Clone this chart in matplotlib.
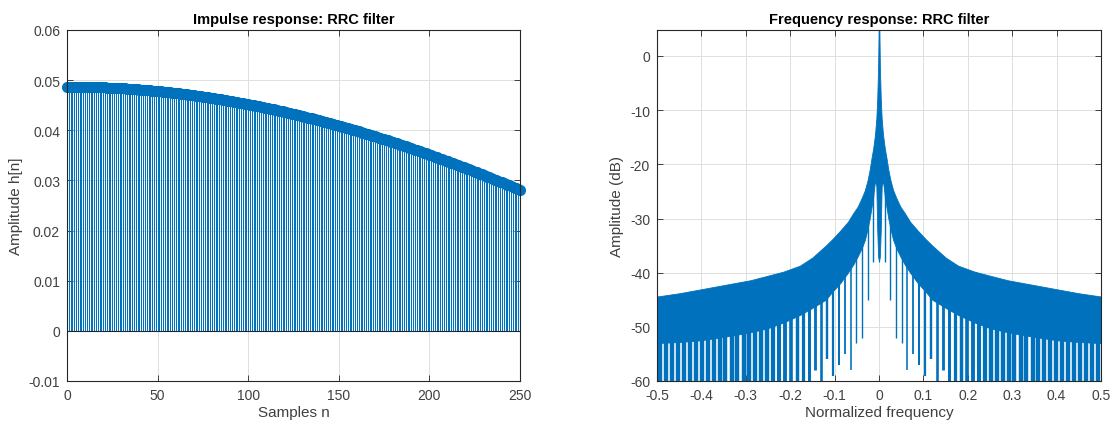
import numpy as np
import matplotlib
matplotlib.use("Agg")
import matplotlib.pyplot as plt

# ---------------- data ----------------
# Impulse response h[n], n = 0..250
samples_n = list(range(251))
h_values = [
    0.04870, 0.04870, 0.04870, 0.04870, 0.04869, 0.04869, 0.04869, 0.04868, 0.04868, 0.04867,
    0.04866, 0.04866, 0.04865, 0.04864, 0.04863, 0.04862, 0.04861, 0.04860, 0.04858, 0.04857,
    0.04856, 0.04854, 0.04853, 0.04851, 0.04849, 0.04848, 0.04846, 0.04844, 0.04842, 0.04840,
    0.04838, 0.04836, 0.04834, 0.04831, 0.04829, 0.04826, 0.04824, 0.04821, 0.04819, 0.04816,
    0.04813, 0.04810, 0.04807, 0.04804, 0.04801, 0.04798, 0.04795, 0.04792, 0.04788, 0.04785,
    0.04781, 0.04778, 0.04774, 0.04770, 0.04767, 0.04763, 0.04759, 0.04755, 0.04751, 0.04747,
    0.04742, 0.04738, 0.04734, 0.04729, 0.04725, 0.04720, 0.04716, 0.04711, 0.04706, 0.04701,
    0.04697, 0.04692, 0.04687, 0.04682, 0.04676, 0.04671, 0.04666, 0.04660, 0.04655, 0.04650,
    0.04644, 0.04638, 0.04633, 0.04627, 0.04621, 0.04615, 0.04609, 0.04603, 0.04597, 0.04591,
    0.04584, 0.04578, 0.04572, 0.04565, 0.04559, 0.04552, 0.04546, 0.04539, 0.04532, 0.04525,
    0.04518, 0.04511, 0.04504, 0.04497, 0.04490, 0.04483, 0.04476, 0.04468, 0.04461, 0.04453,
    0.04446, 0.04438, 0.04430, 0.04423, 0.04415, 0.04407, 0.04399, 0.04391, 0.04383, 0.04375,
    0.04366, 0.04358, 0.04350, 0.04341, 0.04333, 0.04324, 0.04316, 0.04307, 0.04298, 0.04290,
    0.04281, 0.04272, 0.04263, 0.04254, 0.04245, 0.04236, 0.04226, 0.04217, 0.04208, 0.04198,
    0.04189, 0.04179, 0.04170, 0.04160, 0.04150, 0.04140, 0.04131, 0.04121, 0.04111, 0.04101,
    0.04091, 0.04081, 0.04070, 0.04060, 0.04050, 0.04039, 0.04029, 0.04019, 0.04008, 0.03997,
    0.03987, 0.03976, 0.03965, 0.03954, 0.03943, 0.03933, 0.03921, 0.03910, 0.03899, 0.03888,
    0.03877, 0.03866, 0.03854, 0.03843, 0.03831, 0.03820, 0.03808, 0.03797, 0.03785, 0.03773,
    0.03761, 0.03750, 0.03738, 0.03726, 0.03714, 0.03702, 0.03689, 0.03677, 0.03665, 0.03653,
    0.03640, 0.03628, 0.03616, 0.03603, 0.03590, 0.03578, 0.03565, 0.03552, 0.03540, 0.03527,
    0.03514, 0.03501, 0.03488, 0.03475, 0.03462, 0.03449, 0.03436, 0.03423, 0.03409, 0.03396,
    0.03383, 0.03369, 0.03356, 0.03342, 0.03329, 0.03315, 0.03301, 0.03288, 0.03274, 0.03260,
    0.03246, 0.03232, 0.03218, 0.03204, 0.03190, 0.03176, 0.03162, 0.03148, 0.03134, 0.03119,
    0.03105, 0.03091, 0.03076, 0.03062, 0.03047, 0.03033, 0.03018, 0.03003, 0.02989, 0.02974,
    0.02959, 0.02944, 0.02930, 0.02915, 0.02900, 0.02885, 0.02870, 0.02855, 0.02840, 0.02824,
    0.02809,
]

# Frequency response (symmetric about 0; one side given; dB)
env_freq = [0.000, 0.002, 0.004, 0.006, 0.009, 0.013, 0.017, 0.021, 0.026, 0.032, 0.039,
            0.048, 0.058, 0.070, 0.088, 0.105, 0.120, 0.150, 0.178, 0.215, 0.252, 0.290,
            0.330, 0.370, 0.403, 0.450, 0.500]
upper_db = [10.0, -2.0, -8.0, -11.5, -14.5, -17.0, -18.9, -21.0, -23.0, -24.8, -26.2,
            -27.8, -29.0, -30.6, -32.3, -33.8, -35.0, -37.2, -38.7, -39.8, -40.6, -41.4,
            -42.0, -42.6, -43.1, -43.8, -44.4]
solid_db = [-38.0, -37.0, -32.0, -24.0, -23.0, -26.0, -28.0, -30.0, -32.0, -34.0, -35.5,
            -37.0, -38.5, -40.0, -42.0, -43.5, -45.0, -46.5, -47.8, -49.2, -50.3, -51.0,
            -51.6, -52.1, -52.5, -52.8, -53.0]

tooth_freq = [0.013, 0.025, 0.038, 0.051, 0.064, 0.077, 0.090, 0.104, 0.117, 0.131,
              0.144, 0.158, 0.171, 0.185, 0.198, 0.212, 0.225, 0.238, 0.252, 0.265,
              0.279, 0.292, 0.305, 0.319, 0.332, 0.346, 0.359, 0.372, 0.386, 0.399,
              0.413, 0.426, 0.440, 0.453, 0.466, 0.480, 0.493]
tooth_bottom_db = [-38.0, -45.0, -52.0, -53.0, -58.0, -55.0, -57.0, -59.0, -56.0, -60.0,
                   -58.0, -66.0, -66.0, -66.0, -66.0, -66.0, -66.0, -66.0, -66.0, -66.0,
                   -66.0, -66.0, -66.0, -66.0, -66.0, -66.0, -66.0, -66.0, -66.0, -66.0,
                   -66.0, -66.0, -66.0, -66.0, -66.0, -66.0, -66.0]

# ---------------- style ----------------
BLUE = "#0072BD"
AXC = "#262626"
TXT = "#404040"
GRIDC = "#DFDFDF"
plt.rcParams["font.family"] = ["Liberation Sans", "DejaVu Sans"]
plt.rcParams["axes.unicode_minus"] = False

fig = plt.figure(figsize=(11.17, 4.31), dpi=100)
W, H = 1117.0, 431.0
ax1 = fig.add_axes([67 / W, (H - 382) / H, 453 / W, 351 / H])
ax2 = fig.add_axes([657 / W, (H - 382) / H, 444 / W, 351 / H])


def style_axes(ax):
    ax.set_axisbelow(True)
    ax.grid(True, color=GRIDC, linewidth=0.7)
    for s in ax.spines.values():
        s.set_color(AXC)
        s.set_linewidth(0.8)
        s.set_zorder(5)
    ax.tick_params(direction="in", length=4, width=0.6, colors=AXC, labelsize=10,
                   top=True, right=True, pad=5)
    for lab in ax.get_xticklabels() + ax.get_yticklabels():
        lab.set_color(TXT)


# ---- left: impulse response ----
ml, sl, bl = ax1.stem(samples_n, h_values, linefmt="-", markerfmt="o", basefmt="-")
plt.setp(sl, color=BLUE, linewidth=0.75)
plt.setp(ml, color=BLUE, markersize=7, markerfacecolor=BLUE, markeredgecolor=BLUE,
         clip_on=False, zorder=4)
plt.setp(bl, color=AXC, linewidth=0.8)
ax1.set_xlim(0, 250)
ax1.set_ylim(-0.01, 0.06)
ax1.set_xticks([0, 50, 100, 150, 200, 250])
ax1.set_yticks([-0.01, 0, 0.01, 0.02, 0.03, 0.04, 0.05, 0.06])
ax1.set_yticklabels(["-0.01", "0", "0.01", "0.02", "0.03", "0.04", "0.05", "0.06"])
style_axes(ax1)
ax1.set_title("Impulse response: RRC filter", fontsize=10.5, fontweight="bold", pad=5)
ax1.set_xlabel("Samples n", fontsize=11, color=TXT, labelpad=2)
ax1.set_ylabel("Amplitude h[n]", fontsize=11, color=TXT, labelpad=4)

# ---- right: frequency response ----
ef = np.asarray(env_freq)
up = np.asarray(upper_db)
so = np.asarray(solid_db)
f_full = np.concatenate([-ef[::-1], ef[1:]])
up_full = np.concatenate([up[::-1], up[1:]])
so_full = np.concatenate([so[::-1], so[1:]])
ax2.fill_between(f_full, so_full, up_full, color=BLUE, linewidth=0.6, edgecolor=BLUE)

tf = np.asarray(tooth_freq)
tb = np.asarray(tooth_bottom_db)
tops = np.interp(tf, ef, so)
tooth_w = np.interp(tf, [0.05, 0.25], [1.0, 3.2])
for sgn in (-1, 1):
    ax2.vlines(sgn * tf, tb, tops + 0.5, color=BLUE, linewidth=tooth_w)

ax2.set_xlim(-0.5, 0.5)
ax2.set_ylim(-60, 4.8)
ax2.set_xticks([-0.5, -0.4, -0.3, -0.2, -0.1, 0, 0.1, 0.2, 0.3, 0.4, 0.5])
ax2.set_xticklabels(["-0.5", "-0.4", "-0.3", "-0.2", "-0.1", "0", "0.1", "0.2", "0.3", "0.4", "0.5"])
ax2.set_yticks([-60, -50, -40, -30, -20, -10, 0])
style_axes(ax2)
ax2.set_title("Frequency response: RRC filter", fontsize=10.5, fontweight="bold", pad=5)
ax2.set_xlabel("Normalized frequency", fontsize=11, color=TXT, labelpad=2)
ax2.set_ylabel("Amplitude (dB)", fontsize=11, color=TXT, labelpad=4)

fig.savefig("out.png", dpi=100, facecolor="white")
